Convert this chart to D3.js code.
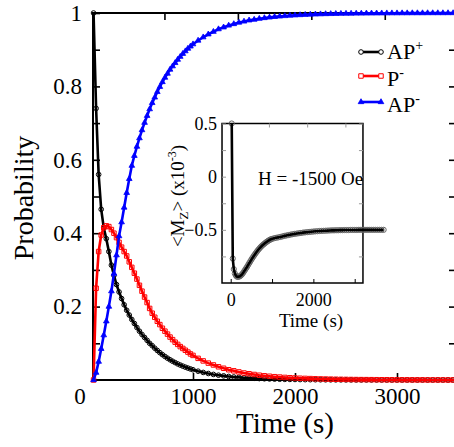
<!DOCTYPE html>
<html><head><meta charset="utf-8">
<script src="https://cdn.jsdelivr.net/npm/d3@7"></script>
<style>body{margin:0;background:#fff} svg{display:block;font-family:"Liberation Serif","Times New Roman",serif}</style>
</head><body><svg id="c" width="454" height="447"></svg>
<script>
// ---- data ----
const times = [
 25,50,75,100,125,150,175,200,225,250,
 275,300,325,350,375,400,425,450,475,500,
 525,550,575,600,625,650,675,700,725,750,
 775,800,825,850,875,900,925,950,975,1000,
 1050,1100,1150,1200,1250,1300,1350,1400,1450,1500,
 1550,1600,1650,1700,1750,1800,1850,1900,1950,2000,
 2050,2100,2150,2200,2250,2300,2350,2400,2450,2500,
 2550,2600,2650,2700,2750,2800,2850,2900,2950,3000,
 3050,3100,3150,3200,3250,3300,3350,3400,3450,3500,
 3550,3600,3650,3700];
const apPlus = [
 1.0,0.74,0.56,0.465,0.415,0.385,0.35,0.313,0.285,0.26,
 0.24,0.222,0.205,0.19,0.177,0.165,0.154,0.143,0.133,0.124,
 0.116,0.108,0.100,0.0935,0.0867,0.0804,0.0745,0.0691,0.0641,0.0594,
 0.0551,0.0511,0.0474,0.0439,0.0407,0.0378,0.035,0.0325,0.0301,0.0279,
 0.024,0.0206,0.0177,0.0152,0.0131,0.0113,0.0097,0.0083,0.0072,0.0062,
 0.0053,0.0046,0.0039,0.0034,0.0029,0.0025,0.0021,0.0018,0.0016,0.0014,
 0.0012,0.001,0.0009,0.0008,0.0007,0.0006,0.0005,0.0004,0.0004,0.0003,
 0.0003,0.0002,0.0002,0.0002,0.0002,0.0002,0.0001,0.0001,0.0001,0.0001,
 0.0001,0.0001,0.0001,0.0001,0.0001,0.0001,0.0001,0.0001,0.0001,0.0001,
 0.0001,0.0001,0.0001,0.0001];
const pMinus = [
 0,0.25,0.35,0.395,0.415,0.42,0.418,0.41,0.40,0.388,
 0.375,0.362,0.35,0.338,0.322,0.307,0.291,0.275,0.258,0.242,
 0.226,0.211,0.195,0.182,0.171,0.160,0.151,0.141,0.133,0.125,
 0.117,0.110,0.103,0.097,0.091,0.086,0.081,0.076,0.071,0.067,
 0.059,0.052,0.046,0.041,0.036,0.032,0.028,0.025,0.022,0.019,
 0.017,0.015,0.013,0.0115,0.0102,0.009,0.008,0.007,0.0062,0.0055,
 0.0048,0.0043,0.0038,0.0033,0.0029,0.0026,0.0023,0.002,0.0018,0.0016,
 0.0014,0.0012,0.0011,0.001,0.0009,0.0008,0.0007,0.0006,0.0005,0.0005,
 0.0004,0.0004,0.0003,0.0003,0.0003,0.0002,0.0002,0.0002,0.0002,0.0001,
 0.0001,0.0001,0.0001,0.0001];
const apMinus = [
 0,0.02,0.05,0.085,0.122,0.16,0.2,0.242,0.29,0.34,
 0.392,0.43,0.47,0.51,0.548,0.584,0.611,0.636,0.659,0.681,
 0.701,0.720,0.738,0.755,0.770,0.785,0.799,0.812,0.824,0.835,
 0.846,0.855,0.864,0.873,0.881,0.889,0.896,0.903,0.909,0.915,
 0.925,0.934,0.942,0.949,0.956,0.961,0.966,0.970,0.974,0.977,
 0.980,0.982,0.9845,0.9864,0.988,0.9895,0.9908,0.9919,0.9929,0.9938,
 0.9945,0.9952,0.9958,0.9963,0.9968,0.9972,0.9975,0.9978,0.9981,0.9983,
 0.9985,0.9987,0.9988,0.999,0.9991,0.9992,0.9993,0.9994,0.9995,0.9995,
 0.9996,0.9996,0.9997,0.9997,0.9997,0.9998,0.9998,0.9998,0.9998,0.9999,
 0.9999,0.9999,0.9999,0.9999];
const mz = [
 0.5,-0.77,-0.87,-0.91,-0.93,-0.94,-0.942,-0.94,-0.936,-0.928,
 -0.918,-0.905,-0.89,-0.875,-0.86,-0.845,-0.828,-0.812,-0.796,-0.78,
 -0.765,-0.75,-0.736,-0.722,-0.709,-0.696,-0.684,-0.673,-0.662,-0.652,
 -0.643,-0.635,-0.627,-0.619,-0.612,-0.605,-0.599,-0.593,-0.589,-0.585,
 -0.579,-0.575,-0.571,-0.567,-0.562,-0.557,-0.553,-0.549,-0.545,-0.541,
 -0.538,-0.535,-0.532,-0.529,-0.526,-0.524,-0.522,-0.52,-0.518,-0.516,
 -0.514,-0.513,-0.511,-0.51,-0.509,-0.508,-0.507,-0.506,-0.505,-0.505,
 -0.504,-0.504,-0.503,-0.503,-0.502,-0.502,-0.502,-0.501,-0.501,-0.501,
 -0.501,-0.5,-0.5,-0.5,-0.5,-0.5,-0.5,-0.5,-0.5,-0.5,
 -0.5,-0.5,-0.5,-0.5];
const seriesNames = ["AP","P","AP"];
const seriesSups = ["+","-","-"];
const xTickVals = [1000,2000,3000];
const xTopTickVals = [720,1440,2160,2880];
const yLabelVals = [0.2,0.4,0.6,0.8,1];
const yTickVals = [0.1,0.2,0.3,0.4,0.5,0.6,0.7,0.8,0.9,1];
const insetXTickVals = [0,1000,2000,3000];
const insetXLabelVals = [0,2000];
const insetXTopVals = [925,1850,2775];
const insetYTickVals = [-0.75,-0.5,-0.25,0,0.25,0.5];
const insetYLabelVals = [-0.5,0,0.5];

// ---- drawing ----
const svg = d3.select("#c");
const x = d3.scaleLinear().domain([0,3600]).range([91,458.2]);
const y = d3.scaleLinear().domain([0,1]).range([380,13]);
const FL = 93, FR = 457;

svg.append("rect").attr("x",FL).attr("y",y(1)).attr("width",FR-FL).attr("height",y(0)-y(1))
  .attr("fill","none").attr("stroke","#000").attr("stroke-width",2);

function axisClean(g){ g.select(".domain").remove(); g.selectAll(".tick line").attr("stroke","#000").attr("stroke-width",1.6); }

// bottom axis
svg.append("g").attr("transform",`translate(0,${y(0)})`)
  .call(d3.axisBottom(x).tickValues(xTickVals).tickSize(-7).tickPadding(8).tickFormat(d3.format("d")))
  .call(axisClean).call(g=>g.selectAll("text").attr("font-size",23).attr("font-family","Liberation Serif").attr("fill","#000"));
svg.append("text").attr("x",x(0)-11).attr("y",404).attr("text-anchor","middle").attr("font-size",23).text("0");
// top ticks
svg.append("g").attr("transform",`translate(0,${y(1)})`)
  .call(d3.axisTop(x).tickValues(xTopTickVals).tickSize(-7).tickFormat(""))
  .call(axisClean);
// left axis
const yAxisX = FL;
svg.append("g").attr("transform",`translate(${yAxisX},0)`)
  .call(d3.axisLeft(y).tickValues(yTickVals).tickSize(-7).tickFormat(""))
  .call(axisClean);
svg.append("g").attr("transform",`translate(${yAxisX},0)`)
  .call(d3.axisLeft(y).tickValues(yLabelVals).tickSize(0).tickPadding(11).tickFormat(d=>d===1?"1":d3.format(".1f")(d)))
  .call(axisClean).call(g=>g.selectAll("text").attr("font-size",23).attr("font-family","Liberation Serif").attr("fill","#000"));
// right ticks
svg.append("g").attr("transform",`translate(${FR},0)`)
  .call(d3.axisRight(y).tickValues(yTickVals.slice(0,9)).tickSize(-8).tickFormat(""))
  .call(axisClean);

// axis titles
svg.append("text").attr("x",285).attr("y",433).attr("text-anchor","middle").attr("font-size",29).text("Time (s)");
svg.append("text").attr("transform","translate(33,198) rotate(-90)").attr("text-anchor","middle").attr("font-size",28).text("Probability");

// series
const idx = d3.range(times.length);
const series = [
  {vals:apPlus, color:"#000", sym:d3.symbolCircle, size:17, fill:"none", sw:1},
  {vals:pMinus, color:"#ff0000", sym:d3.symbolSquare, size:20, fill:"none", sw:1},
  {vals:apMinus, color:"#0000ff", sym:d3.symbolTriangle, size:14, fill:"#0000ff", sw:0.8}
];
series.forEach(s=>{
  const line = d3.line().x(i=>x(times[i])).y(i=>y(s.vals[i]));
  svg.append("path").attr("d",line(idx)).attr("fill","none").attr("stroke",s.color).attr("stroke-width",2.6).attr("stroke-linejoin","round");
  svg.append("g").selectAll("path").data(idx).join("path")
    .attr("transform",i=>`translate(${x(times[i])},${y(s.vals[i])})`)
    .attr("d",d3.symbol().type(s.sym).size(s.size))
    .attr("fill",s.fill).attr("stroke",s.color).attr("stroke-width",s.sw);
});

// legend
const legY = [52,76,102];
const legTextY = [58.5,86,112];
series.forEach((s,k)=>{
  const g = svg.append("g");
  g.append("line").attr("x1",361).attr("x2",381).attr("y1",legY[k]).attr("y2",legY[k]).attr("stroke",s.color).attr("stroke-width",2.6);
  [361,381].forEach(px=>g.append("path").attr("transform",`translate(${px},${legY[k]})`)
    .attr("d",d3.symbol().type(s.sym).size(s.size)).attr("fill",s.fill==="none"?"#fff":s.fill).attr("stroke",s.color).attr("stroke-width",s.sw));
  const t = g.append("text").attr("x",387).attr("y",legTextY[k]).attr("font-size",22);
  t.append("tspan").text(seriesNames[k]);
  t.append("tspan").attr("dy",-9).attr("font-size",14).text(seriesSups[k]);
});

// ---- inset ----
const xi = d3.scaleLinear().domain([0,3200]).range([230.7,362.96]);
const yi = d3.scaleLinear().domain([-1,0.5]).range([283,123.5]);
const IL = xi(-210), IR = xi(3200);
svg.append("rect").attr("x",IL).attr("y",yi(0.5)).attr("width",IR-IL).attr("height",yi(-1)-yi(0.5))
  .attr("fill","#fff").attr("stroke","#000").attr("stroke-width",1.5);
svg.append("g").attr("transform",`translate(0,${yi(-1)})`)
  .call(d3.axisBottom(xi).tickValues(insetXTickVals).tickSize(-4).tickFormat(""))
  .call(axisClean).call(g=>g.selectAll(".tick line").attr("stroke-width",1));
svg.append("g").attr("transform",`translate(0,${yi(-1)})`)
  .call(d3.axisBottom(xi).tickValues(insetXLabelVals).tickSize(0).tickPadding(10).tickFormat(d3.format("d")))
  .call(axisClean).call(g=>g.selectAll("text").attr("font-size",18).attr("font-family","Liberation Serif").attr("fill","#000"));
svg.append("g").attr("transform",`translate(0,${yi(0.5)})`)
  .call(d3.axisTop(xi).tickValues(insetXTopVals).tickSize(-4).tickFormat(""))
  .call(axisClean).call(g=>g.selectAll(".tick line").attr("stroke","#999").attr("stroke-width",1));
svg.append("g").attr("transform",`translate(${IL},0)`)
  .call(d3.axisLeft(yi).tickValues(insetYTickVals).tickSize(-4).tickFormat(""))
  .call(axisClean).call(g=>g.selectAll(".tick line").attr("stroke","#999").attr("stroke-width",1));
svg.append("g").attr("transform",`translate(${IL},0)`)
  .call(d3.axisLeft(yi).tickValues(insetYLabelVals).tickSize(0).tickPadding(5).tickFormat(d=>d===0?"0":d3.format(".1f")(d)))
  .call(axisClean).call(g=>g.selectAll("text").attr("font-size",18).attr("font-family","Liberation Serif").attr("fill","#000"));
svg.append("g").attr("transform",`translate(${IR},0)`)
  .call(d3.axisRight(yi).tickValues(insetYTickVals).tickSize(-4).tickFormat(""))
  .call(axisClean).call(g=>g.selectAll(".tick line").attr("stroke","#999").attr("stroke-width",1));

const mzLine = d3.line().x(i=>xi(times[i])).y(i=>yi(mz[i]));
svg.append("g").selectAll("circle").data(idx).join("circle")
  .attr("cx",i=>xi(times[i])).attr("cy",i=>yi(mz[i])).attr("r",2.6)
  .attr("fill","none").attr("stroke","#666").attr("stroke-width",1);
svg.append("path").attr("d",mzLine(idx)).attr("fill","none").attr("stroke","#000").attr("stroke-width",2.6).attr("stroke-linejoin","round");

svg.append("text").attr("x",311).attr("y",327).attr("text-anchor","middle").attr("font-size",19).text("Time (s)");
const yl = svg.append("text").attr("transform","translate(184,196) rotate(-90)").attr("text-anchor","middle").attr("font-size",19);
yl.append("tspan").text("<M");
yl.append("tspan").attr("font-size",13).attr("dy",4).text("Z");
yl.append("tspan").attr("dy",-4).text("> (x10");
yl.append("tspan").attr("font-size",12).attr("dy",-8).text("-3");
yl.append("tspan").attr("dy",8).text(")");
svg.append("text").attr("x",258).attr("y",185).attr("font-size",19).text("H = -1500 Oe");
</script></body></html>
